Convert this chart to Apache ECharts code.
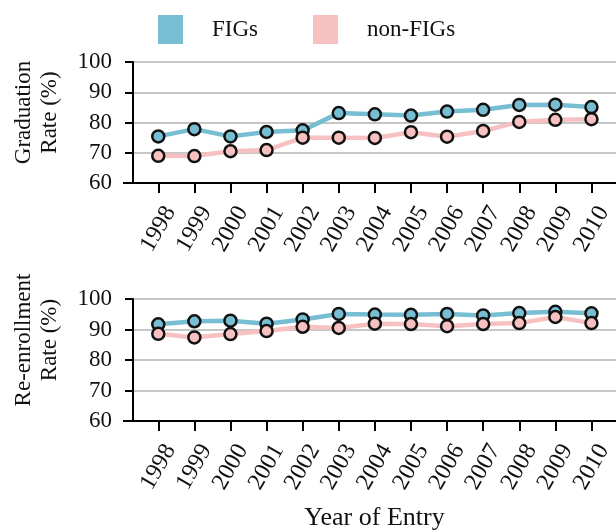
<!DOCTYPE html>
<html><head><meta charset="utf-8">
<script src="https://cdn.jsdelivr.net/npm/echarts@6/dist/echarts.min.js"></script>
<style>html,body{margin:0;padding:0;background:#fff}#c{width:616px;height:532px}</style>
</head><body><div id="c"></div>
<script>
const years = [1998,1999,2000,2001,2002,2003,2004,2005,2006,2007,2008,2009,2010];
const gradFIG = [75.4,77.8,75.4,76.9,77.4,83.1,82.7,82.3,83.6,84.2,85.8,85.9,85.1];
const gradNon = [69.0,68.9,70.5,70.9,75.0,75.0,74.9,76.8,75.3,77.2,80.2,80.9,81.1];
const reFIG = [91.7,92.7,92.9,91.9,93.3,95.1,94.9,94.8,95.1,94.6,95.4,95.8,95.3];
const reNon = [88.6,87.4,88.5,89.5,90.9,90.5,91.9,91.8,91.1,91.8,92.1,94.1,92.1];
const seriesNames = ['FIGs','non-FIGs'];
const yTitles = ['Graduation\nRate (%)','Re-enrollment\nRate (%)'];
const xTitle = 'Year of Entry';

const FONT = 'Liberation Serif';
const BLUE = '#77BED3', PINK = '#F7C1C1';
const chart = echarts.init(document.getElementById('c'));

function xAx(gi, withName){
  return {
    type:'value', gridIndex:gi, min:1997.3, max:2010.68,
    axisLine:{show:true, onZero:false, lineStyle:{color:'#000', width:2}},
    axisTick:{show:true, customValues:years, length:10, lineStyle:{color:'#000', width:2}},
    axisLabel:{customValues:years, rotate:60, align:'center', verticalAlign:'middle', margin:46,
      fontFamily:FONT, fontSize:24, color:'#111', formatter:v=>String(v)},
    splitLine:{show:false},
    name: withName ? xTitle : '', nameLocation:'middle', nameGap:84,
    nameTextStyle:{fontFamily:FONT, fontSize:26, color:'#111'}
  };
}
function yAx(gi, title, pad){
  return {
    type:'value', gridIndex:gi, min:60, max:100, interval:10,
    axisLine:{show:true, lineStyle:{color:'#000', width:2}},
    axisTick:{show:true, length:8, lineStyle:{color:'#000', width:2}},
    axisLabel:{margin:21, fontFamily:FONT, fontSize:23, color:'#111'},
    splitLine:{show:true, lineStyle:{color:'#b3b3b3', width:1.5}},
    name:title, nameLocation:'middle', nameRotate:90, nameGap:70,
    nameTextStyle:{fontFamily:FONT, fontSize:23, color:'#111', lineHeight:26, padding:[0,0,0,pad]}
  };
}
function ser(name, data, gi, color){
  return {
    name, type:'line', xAxisIndex:gi, yAxisIndex:gi,
    data: years.map((y,i)=>[y,data[i]]),
    symbol:'circle', symbolSize:12, showSymbol:true,
    lineStyle:{color, width:4.5},
    itemStyle:{color, borderColor:'#111', borderWidth:2.5},
    emphasis:{disabled:true}, animation:false
  };
}

chart.setOption({
  animation:false,
  legend:{
    data:seriesNames, top:15, left:158, padding:0, icon:'rect', itemWidth:25, itemHeight:29, itemGap:55,
    itemStyle:{borderWidth:0},
    textStyle:{fontFamily:FONT, fontSize:23, color:'#111', padding:[0,0,0,24]}
  },
  grid:[
    {left:133, right:0, top:62, height:121},
    {left:133, right:0, top:299, height:122}
  ],
  xAxis:[xAx(0,false), xAx(1,true)],
  yAxis:[yAx(0,yTitles[0],20), yAx(1,yTitles[1],40)],
  series:[
    ser(seriesNames[0], gradFIG, 0, BLUE),
    ser(seriesNames[1], gradNon, 0, PINK),
    ser(seriesNames[0], reFIG, 1, BLUE),
    ser(seriesNames[1], reNon, 1, PINK)
  ],
  graphic:[
    {type:'line', shape:{x1:123, y1:183, x2:134, y2:183}, style:{stroke:'#000', lineWidth:2}},
    {type:'line', shape:{x1:123, y1:421, x2:134, y2:421}, style:{stroke:'#000', lineWidth:2}}
  ]
});
</script></body></html>
